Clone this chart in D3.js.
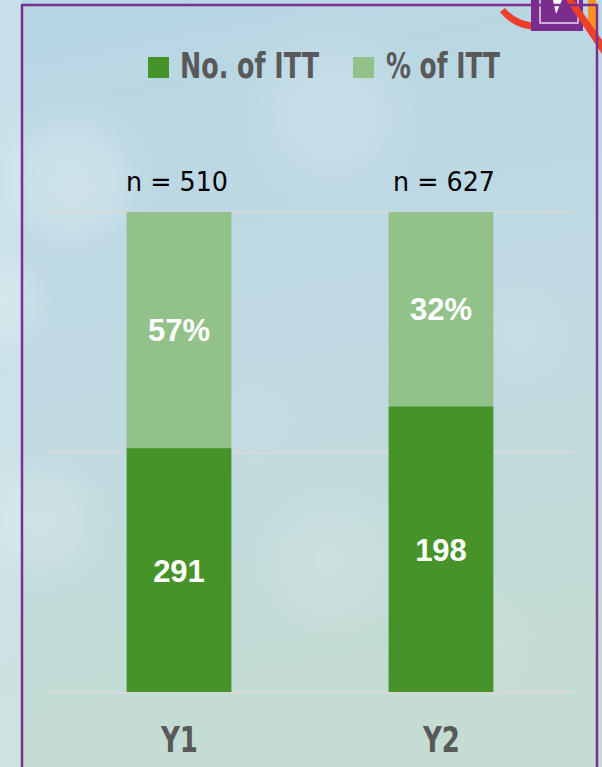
<!DOCTYPE html>
<html>
<head>
<meta charset="utf-8">
<script src="https://cdn.jsdelivr.net/npm/d3@7"></script>
<style>
  html, body { margin: 0; padding: 0; background: #c6dee4; }
  svg { display: block; }
</style>
</head>
<body>
<div id="chart"></div>
<script>
// chart data
const years = ['Y1', 'Y2'];
const nLabels = ['n = 510', 'n = 627'];
const ittShare = [50.8, 59.5];      // height of the dark segment, % of bar
const ittCounts = ['291', '198'];
const ittPercents = ['57%', '32%'];
const gridTicks = [0, 50, 100];
const legendLabels = ['No. of ITT', '% of ITT'];

const W = 602, H = 767;
const dark = '#459329', light = '#93c18a', grey = '#595959';

const svg = d3.select('#chart').append('svg')
  .attr('width', W)
  .attr('height', H);

// background
const defs = svg.append('defs');
const bg = defs.append('linearGradient').attr('id', 'bg')
  .attr('x1', 0).attr('y1', 0).attr('x2', 0.15).attr('y2', 1);
bg.append('stop').attr('offset', '0%').attr('stop-color', '#b7d6e4');
bg.append('stop').attr('offset', '55%').attr('stop-color', '#c0dae2');
bg.append('stop').attr('offset', '100%').attr('stop-color', '#c4dcd2');
const blur = defs.append('filter').attr('id', 'blur')
  .attr('x', '-50%').attr('y', '-50%').attr('width', '200%').attr('height', '200%');
blur.append('feGaussianBlur').attr('stdDeviation', 20);

svg.append('rect').attr('width', W).attr('height', H).attr('fill', 'url(#bg)');
svg.append('rect').attr('width', 22).attr('height', H).attr('fill', '#d6eaee').attr('opacity', 0.5);
const blobs = [
  [70, 180, 60, 0.25], [330, 110, 70, 0.15], [40, 520, 50, 0.2],
  [330, 560, 60, 0.12], [520, 330, 50, 0.08], [250, 420, 40, 0.08],
  [0, 300, 40, 0.25], [480, 640, 45, 0.08]
];
svg.append('g').selectAll('circle').data(blobs).join('circle')
  .attr('cx', d => d[0]).attr('cy', d => d[1]).attr('r', d => d[2])
  .attr('fill', '#ffffff').attr('opacity', d => d[3])
  .attr('filter', 'url(#blur)');

// corner logo
const logo = svg.append('g');
logo.append('path').attr('d', 'M505,8 Q520,26 548,22 L546,30 Q515,32 500,12 Z').attr('fill', '#ec3f2c');
logo.append('rect').attr('x', 532).attr('y', 0).attr('width', 8).attr('height', 6).attr('fill', '#6cb33f');
logo.append('rect').attr('x', 531).attr('y', 0).attr('width', 52).attr('height', 31).attr('fill', '#7a2d8c');
logo.append('rect').attr('x', 540).attr('y', -2).attr('width', 38).attr('height', 25)
  .attr('fill', 'none').attr('stroke', '#e8d8ee').attr('stroke-width', 1.5);
logo.append('path').attr('d', 'M553,0 L562,0 L556,14 Z').attr('fill', '#ffffff');
logo.append('rect').attr('x', 588).attr('y', 0).attr('width', 8).attr('height', 32).attr('fill', '#f7941d');
logo.append('path').attr('d', 'M566,0 L574,0 L602,40 L602,54 Z').attr('fill', '#ec3f2c');

// frame
svg.append('rect')
  .attr('x', 22).attr('y', 5).attr('width', 575).attr('height', 800)
  .attr('fill', 'none').attr('stroke', '#7b2f8e').attr('stroke-width', 2.5);

// scales
const x = d3.scaleBand().domain(years).range([48, 572])
  .paddingInner(0.6).paddingOuter(0.3);
const y = d3.scaleLinear().domain([0, 100]).range([692, 212]);

// gridlines
const grid = svg.append('g')
  .attr('transform', 'translate(48,0)')
  .call(d3.axisLeft(y).tickValues(gridTicks).tickSize(-524).tickFormat(''));
grid.select('.domain').remove();
grid.selectAll('line').attr('stroke', '#d9d9d9').attr('stroke-width', 2);

// bars
const rows = years.map((yr, i) => ({ yr, share: ittShare[i], i }));
const bars = svg.append('g');
bars.selectAll('.top').data(rows).join('rect')
  .attr('x', d => x(d.yr))
  .attr('width', x.bandwidth())
  .attr('y', y(100))
  .attr('height', d => y(d.share) - y(100))
  .attr('fill', light);
bars.selectAll('.bottom').data(rows).join('rect')
  .attr('x', d => x(d.yr))
  .attr('width', x.bandwidth())
  .attr('y', d => y(d.share))
  .attr('height', d => y(0) - y(d.share))
  .attr('fill', dark);

// segment labels
const lab = svg.append('g')
  .attr('font-family', '"Liberation Sans", Arial, sans-serif')
  .attr('font-weight', 'bold').attr('font-size', 31)
  .attr('fill', '#ffffff').attr('text-anchor', 'middle');
lab.selectAll('.pct').data(rows).join('text')
  .attr('x', d => x(d.yr) + x.bandwidth() / 2)
  .attr('y', d => (y(100) + y(d.share)) / 2 + 11)
  .text(d => ittPercents[d.i]);
lab.selectAll('.cnt').data(rows).join('text')
  .attr('x', d => x(d.yr) + x.bandwidth() / 2)
  .attr('y', d => (y(0) + y(d.share)) / 2 + 12)
  .text(d => ittCounts[d.i]);

// n labels above bars
svg.append('g').selectAll('text').data(rows).join('text')
  .attr('x', d => x(d.yr) + x.bandwidth() / 2 + (d.i ? 3 : -2))
  .attr('y', 191)
  .attr('text-anchor', 'middle')
  .attr('font-family', '"DejaVu Sans", "Noto Sans", sans-serif')
  .attr('font-size', 27)
  .attr('fill', '#000000')
  .attr('textLength', 102).attr('lengthAdjust', 'spacingAndGlyphs')
  .text(d => nLabels[d.i]);

// category labels
const narrow = '"Liberation Sans Narrow", "DejaVu Sans Condensed", "Liberation Sans", sans-serif';
svg.append('g').selectAll('text').data(rows).join('text')
  .attr('x', d => x(d.yr) + x.bandwidth() / 2 - 18)
  .attr('y', 752)
  .attr('font-family', narrow).attr('font-weight', 'bold')
  .attr('font-size', 35).attr('fill', grey)
  .attr('textLength', 37).attr('lengthAdjust', 'spacingAndGlyphs')
  .text(d => d.yr);

// legend
const legend = svg.append('g');
const legendItems = [
  { label: legendLabels[0], color: dark, sx: 148, tx: 180, tw: 139 },
  { label: legendLabels[1], color: light, sx: 353, tx: 386, tw: 114 }
];
legend.selectAll('rect').data(legendItems).join('rect')
  .attr('x', d => d.sx).attr('y', 57).attr('width', 21).attr('height', 21)
  .attr('fill', d => d.color);
legend.selectAll('text').data(legendItems).join('text')
  .attr('x', d => d.tx).attr('y', 78)
  .attr('font-family', narrow).attr('font-weight', 'bold')
  .attr('font-size', 35).attr('fill', grey)
  .attr('textLength', d => d.tw).attr('lengthAdjust', 'spacingAndGlyphs')
  .text(d => d.label);
</script>
</body>
</html>
